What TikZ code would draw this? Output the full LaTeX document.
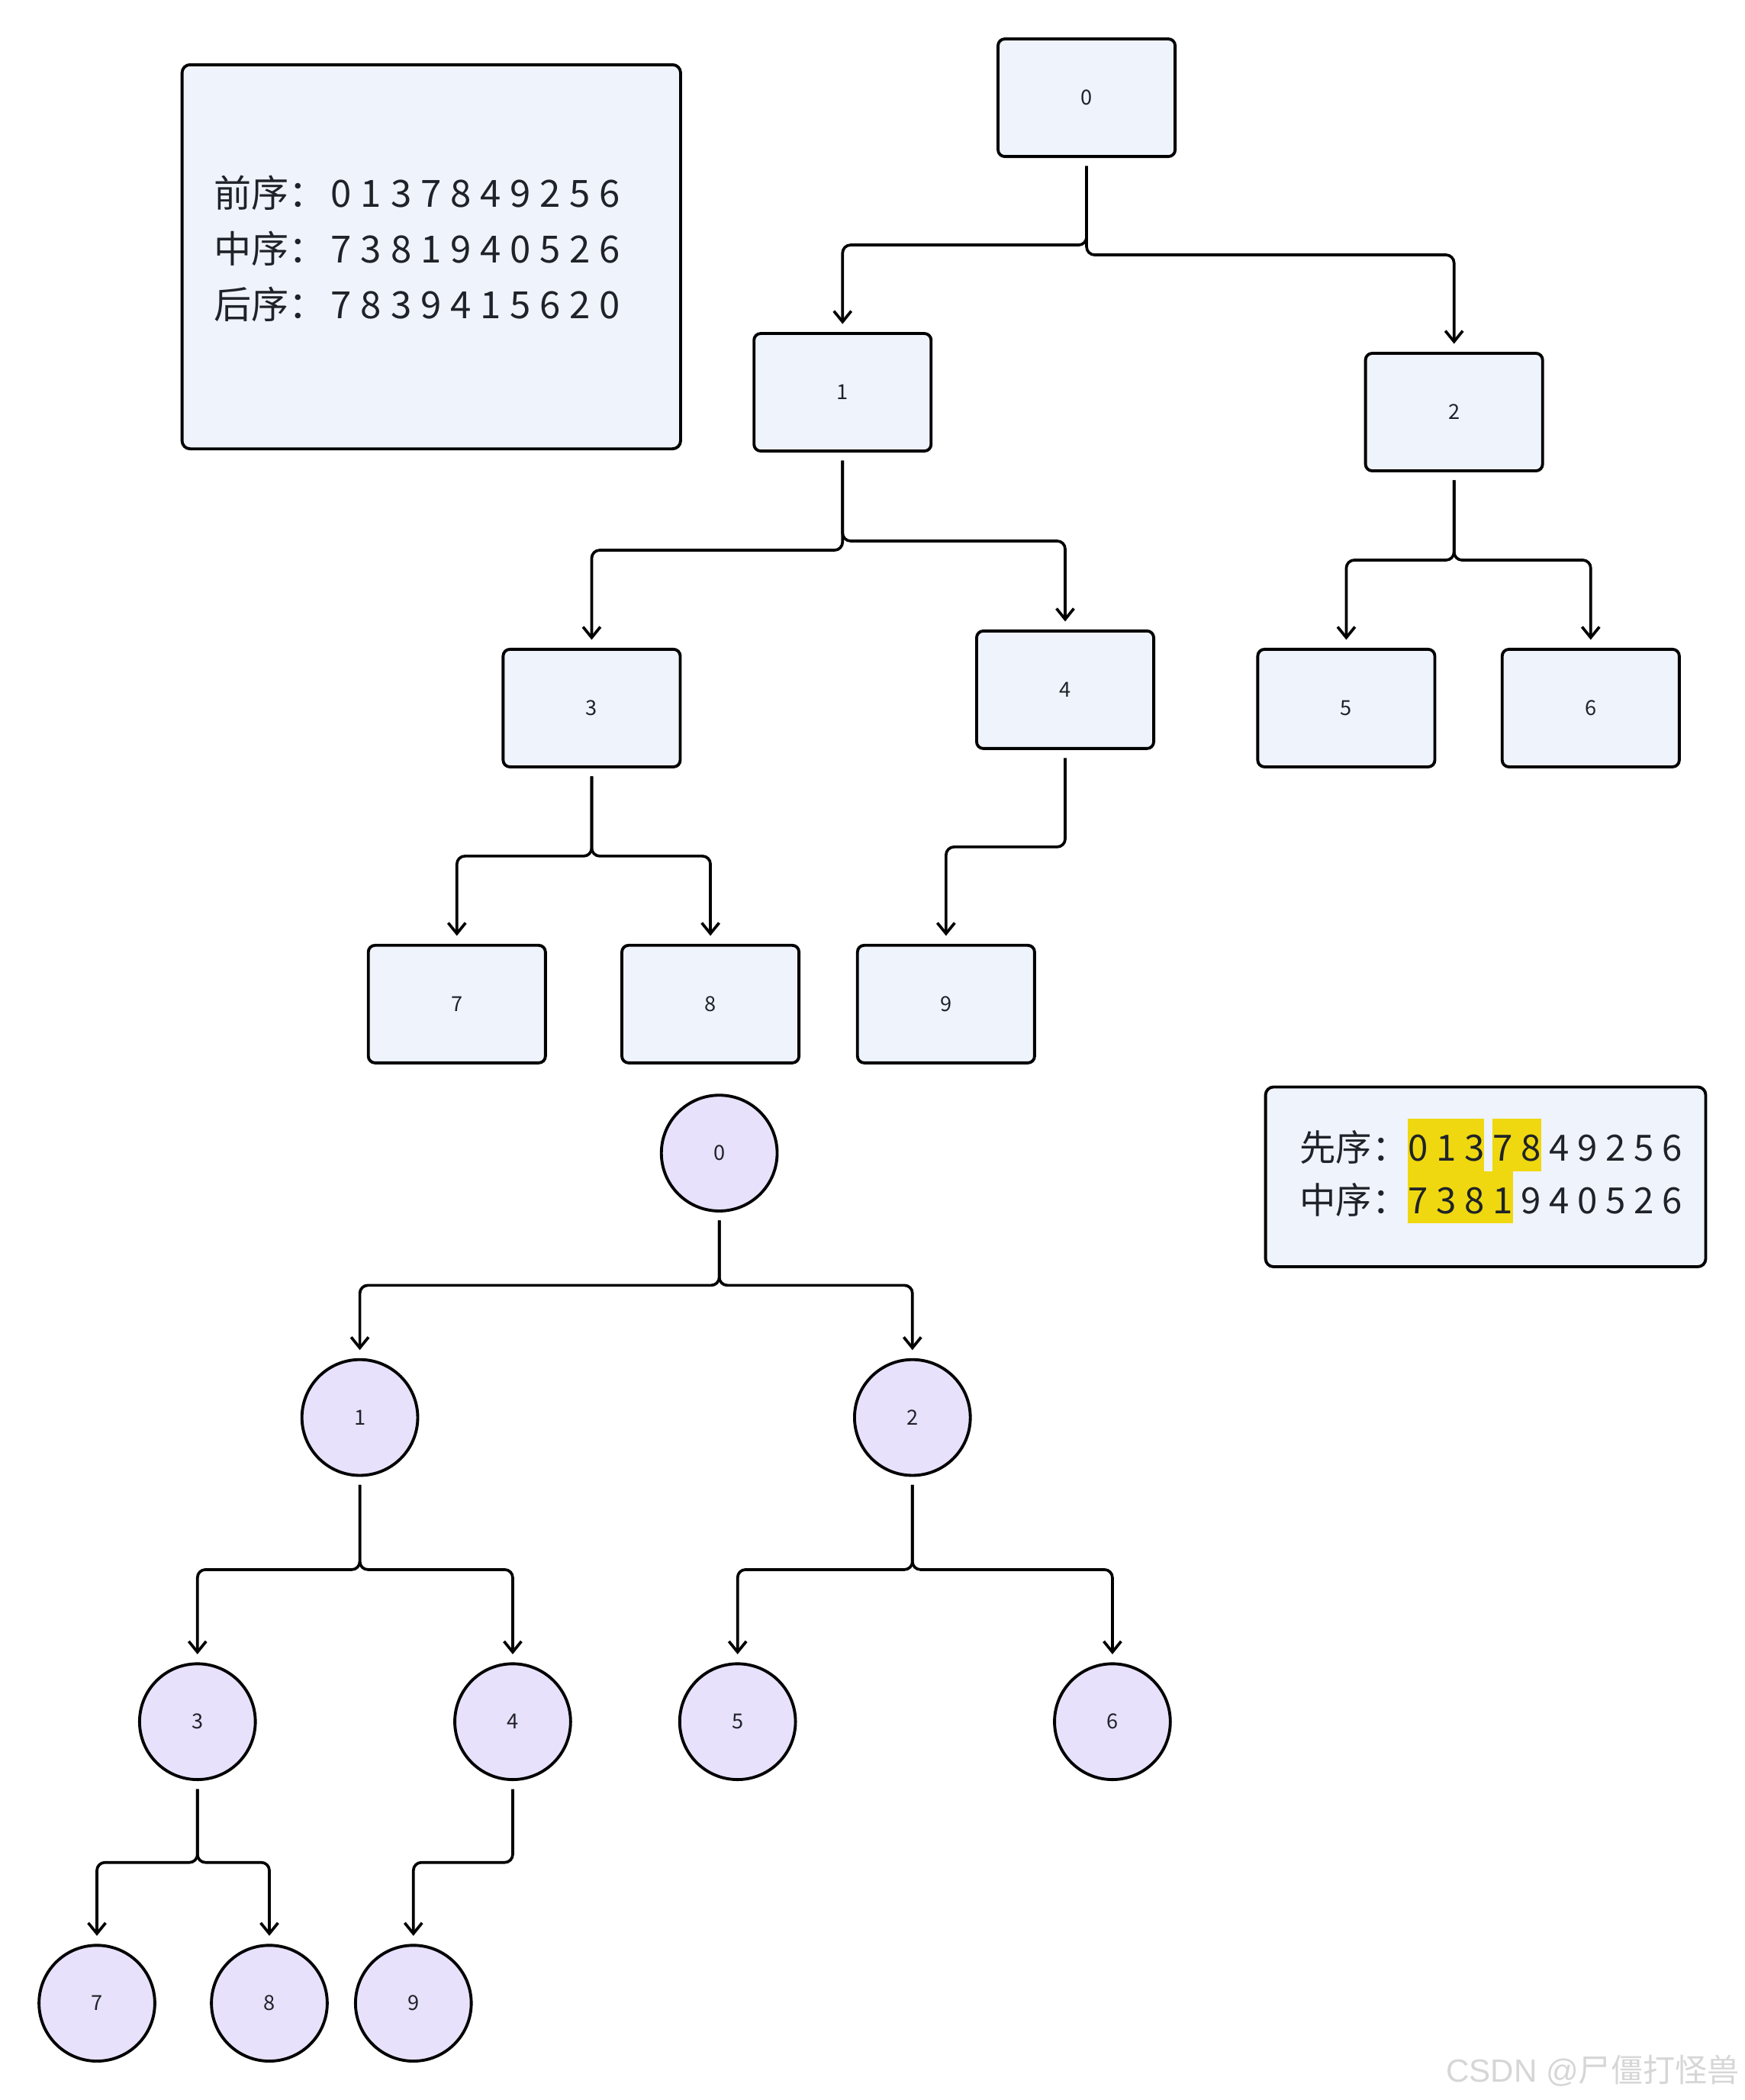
\documentclass[tikz,border=0pt]{standalone}
\usepackage{fontspec}
\setmainfont{Noto Sans CJK SC}
\newfontfamily\wmlatin{Liberation Sans}
\usetikzlibrary{arrows.meta,calc}
\definecolor{boxfill}{HTML}{EFF3FC}
\definecolor{circfill}{HTML}{E8E1FC}
\definecolor{hl}{HTML}{EFD80F}
\definecolor{txt}{HTML}{1F2329}
\definecolor{wm}{HTML}{D6D6D6}
\newlength\mydigw
\def\myspd#1{\ifx#1\relax\else\makebox[\mydigw]{#1}\expandafter\myspd\fi}
\newcommand\treeedge[2]{\draw[edge] ([yshift=-6pt]#1.south) |- ($(#1.south)!0.5!(#2.north)$) -| ([yshift=6pt]#2.north);}
\tikzset{
  treebox/.style={draw=black, line width=2.2pt, fill=boxfill, rounded corners=5pt,
    minimum width=132.3pt, minimum height=87.8pt, inner sep=0pt,
    font=\fontsize{15.5}{18}\selectfont, text=txt},
  treecirc/.style={circle, draw=black, line width=2.2pt, fill=circfill,
    minimum size=86.5pt, inner sep=0pt, font=\fontsize{15.5}{18}\selectfont, text=txt},
  legendbox/.style={draw=black, line width=2.2pt, fill=boxfill, rounded corners=6pt, inner sep=0pt},
  legendtext/.style={anchor=base west, inner sep=0pt, text=txt},
  edge/.style={draw=black, line width=2.1pt, rounded corners=6pt, -{Straight Barb[length=8pt,width=13pt]}},
}
\begin{document}
\begin{tikzpicture}[x=1pt,y=-1pt]
\useasboundingbox (0,0) rectangle (1303,1568.6);
% legend 1
\node[legendbox, minimum width=372.4pt, minimum height=286.9pt] (leg1) at (322.2,191.8) {};
\node[legendtext, font=\fontsize{28}{34}\selectfont] (l1a) at (159.7,154.6) {前序：\setlength\mydigw{22.3pt}\myspd 0137849256\relax};
\node[legendtext, font=\fontsize{28}{34}\selectfont] (l1b) at (159.7,196.5) {中序：\setlength\mydigw{22.3pt}\myspd 7381940526\relax};
\node[legendtext, font=\fontsize{28}{34}\selectfont] (l1c) at (159.7,237.8) {后序：\setlength\mydigw{22.3pt}\myspd 7839415620\relax};
% legend 2
\node[legendbox, minimum width=328.8pt, minimum height=134.3pt] (leg2) at (1109.8,879.05) {};
\fill[hl] (1051.4,835.4) rectangle (1108.6,875);
\fill[hl] (1115,835.4) rectangle (1151.4,875);
\fill[hl] (1051.4,875) rectangle (1130,913.8);
\node[legendtext, font=\fontsize{27}{32}\selectfont] (l2a) at (970.7,867.2) {先序：\kern-3pt\setlength\mydigw{21.1pt}\myspd 0137849256\relax};
\node[legendtext, font=\fontsize{27}{32}\selectfont] (l2b) at (970.7,906.7) {中序：\kern-3pt\setlength\mydigw{21.1pt}\myspd 7381940526\relax};
% box tree
\node[treebox] (b0) at (811.7,73) {0};
\node[treebox] (b1) at (629.4,293) {1};
\node[treebox] (b2) at (1086.2,307.8) {2};
\node[treebox] (b3) at (442,528.9) {3};
\node[treebox] (b4) at (795.7,515.2) {4};
\node[treebox] (b5) at (1005.7,528.9) {5};
\node[treebox] (b6) at (1188.3,528.9) {6};
\node[treebox] (b7) at (341.3,750) {7};
\node[treebox] (b8) at (530.7,750) {8};
\node[treebox] (b9) at (706.7,750) {9};
\treeedge{b0}{b1}
\treeedge{b0}{b2}
\treeedge{b1}{b3}
\treeedge{b1}{b4}
\treeedge{b2}{b5}
\treeedge{b2}{b6}
\treeedge{b3}{b7}
\treeedge{b3}{b8}
\treeedge{b4}{b9}
% circle tree
\node[treecirc] (c0) at (537.3,861.3) {0};
\node[treecirc] (c1) at (268.8,1058.8) {1};
\node[treecirc] (c2) at (681.6,1058.8) {2};
\node[treecirc] (c3) at (147.5,1286) {3};
\node[treecirc] (c4) at (383,1286) {4};
\node[treecirc] (c5) at (551,1286) {5};
\node[treecirc] (c6) at (831,1286) {6};
\node[treecirc] (c7) at (72.4,1496.3) {7};
\node[treecirc] (c8) at (201.2,1496.3) {8};
\node[treecirc] (c9) at (308.8,1496.3) {9};
\treeedge{c0}{c1}
\treeedge{c0}{c2}
\treeedge{c1}{c3}
\treeedge{c1}{c4}
\treeedge{c2}{c5}
\treeedge{c2}{c6}
\treeedge{c3}{c7}
\treeedge{c3}{c8}
\treeedge{c4}{c9}
% watermark
\node[anchor=base west, inner sep=0pt, text=wm, font=\fontsize{24}{28}\selectfont] (wmk) at (1080,1555) {{\wmlatin CSDN @}尸僵打怪兽};
\end{tikzpicture}
\end{document}
